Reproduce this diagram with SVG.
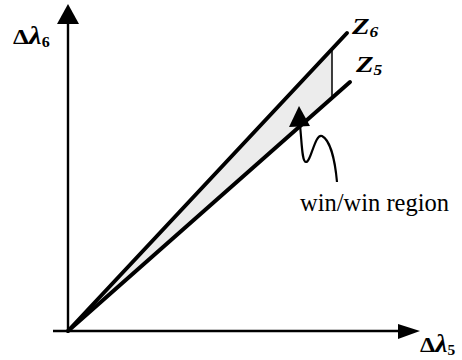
<svg xmlns="http://www.w3.org/2000/svg" width="462" height="360" viewBox="0 0 462 360">
<style>
.ax{stroke:#000;stroke-width:2.4;fill:none}
.zl{stroke:#000;stroke-width:4;fill:none;stroke-linecap:round}
.lab{font-family:"Liberation Serif",serif;font-weight:bold;fill:#000}
.txt{font-family:"Liberation Serif",serif;fill:#000}
</style>
<rect width="462" height="360" fill="#fff"/>
<g id="region">
<polygon points="68,331 332,49 332,98" fill="#ececec"/>
<line x1="332" y1="49" x2="332" y2="98" stroke="#000" stroke-width="1.5"/>
</g>
<g id="axes">
<line class="ax" x1="68" y1="332" x2="68" y2="22"/>
<polygon points="68,4 57,24 79,24" fill="#000"/>
<line class="ax" x1="53" y1="331" x2="400" y2="331"/>
<polygon points="420,331 398,324 398,339" fill="#000"/>
</g>
<g id="lines">
<line class="zl" x1="68" y1="331" x2="347" y2="33"/>
<line class="zl" x1="68" y1="331" x2="350" y2="82"/>
</g>
<g id="pointer">
<polygon points="299,106 289,127 310,126" fill="#000"/>
<path d="M300,125 C302,145 302,162 306,162 C311,162 315,133 322,136 C330,140 335,160 337,182" fill="none" stroke="#000" stroke-width="2.2"/>
</g>
<g id="labels">
<text class="lab" font-size="22" transform="translate(13,44) scale(1.15,1)">Δ<tspan font-size="25" font-style="italic">λ</tspan><tspan font-size="14" dy="3">6</tspan></text>
<text class="lab" font-size="22" transform="translate(420,352) scale(1.1,1)">Δ<tspan font-size="25" font-style="italic">λ</tspan><tspan font-size="14" dy="3">5</tspan></text>
<text class="lab" font-size="23" font-style="italic" transform="translate(352,34) scale(1.25,1)">Z<tspan font-size="14" dy="3">6</tspan></text>
<text class="lab" font-size="23" font-style="italic" transform="translate(356,72) scale(1.25,1)">Z<tspan font-size="14" dy="3">5</tspan></text>
<text class="txt" x="300" y="211" font-size="24.5">win/win region</text>
</g>
</svg>
